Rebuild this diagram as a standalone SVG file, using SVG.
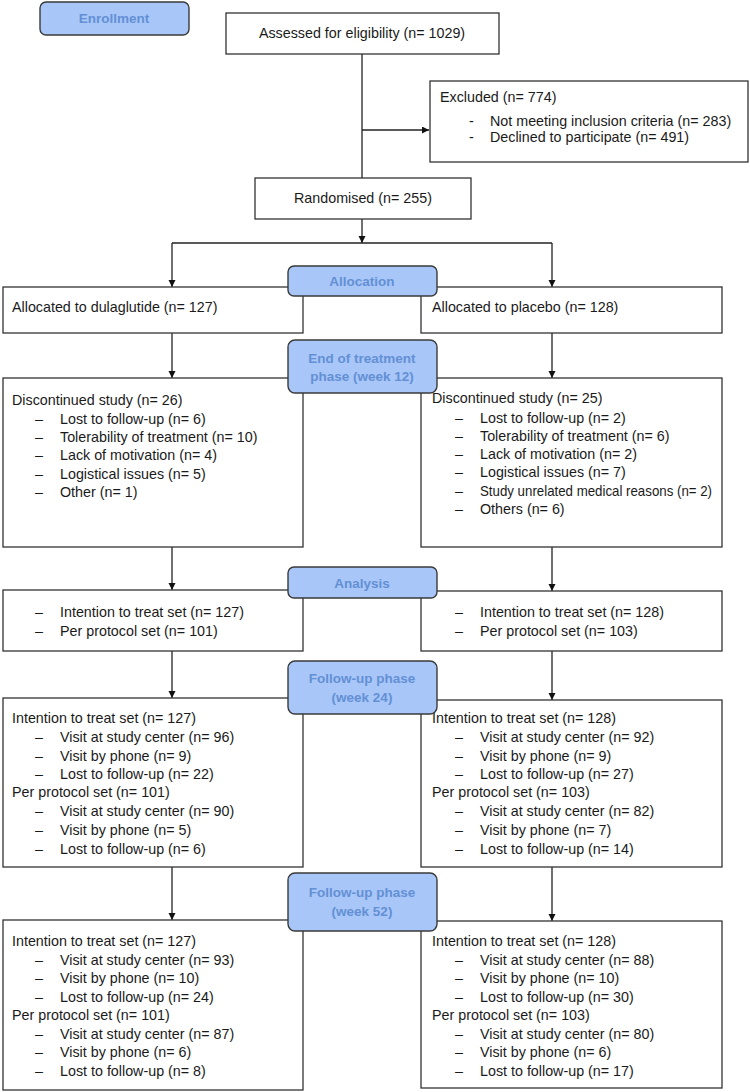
<svg xmlns="http://www.w3.org/2000/svg" width="750" height="1092" viewBox="0 0 750 1092">
<style>
.box{fill:#fff;stroke:#333;stroke-width:1.3}
.pill{fill:#a8c6f8;stroke:#3a3a3a;stroke-width:1.4}
.t{font-family:"Liberation Sans",Arial,sans-serif;font-size:14.3px;fill:#1a1a1a}
.p{font-family:"Liberation Sans",Arial,sans-serif;font-size:13.5px;font-weight:bold;fill:#6390d4;text-anchor:middle}
.c{stroke:#222;stroke-width:1.3;fill:none}
.a{marker-end:url(#ah)}
</style>
<defs>
<marker id="ah" markerUnits="userSpaceOnUse" markerWidth="8" markerHeight="8" refX="7" refY="3.5" orient="auto">
<path d="M0,0 L7,3.5 L0,7 z" fill="#111"/>
</marker>
</defs>
<rect width="750" height="1092" fill="#fff"/>

<g id="connectors">
<line class="c" x1="362" y1="54" x2="362" y2="178"/>
<line class="c a" x1="362" y1="130" x2="429" y2="130"/>
<line class="c a" x1="362" y1="219" x2="362" y2="243"/>
<polyline class="c" points="172,243 552,243"/>
<line class="c a" x1="172" y1="243" x2="172" y2="287"/>
<line class="c a" x1="552" y1="243" x2="552" y2="287"/>
<line class="c a" x1="172" y1="333" x2="172" y2="378"/>
<line class="c a" x1="552" y1="333" x2="552" y2="378"/>
<line class="c a" x1="172" y1="547" x2="172" y2="590"/>
<line class="c a" x1="552" y1="547" x2="552" y2="591"/>
<line class="c a" x1="172" y1="651" x2="172" y2="698"/>
<line class="c a" x1="552" y1="651" x2="552" y2="700"/>
<line class="c a" x1="172" y1="867" x2="172" y2="920"/>
<line class="c a" x1="552" y1="867" x2="552" y2="921"/>
</g>

<g id="assessed">
<rect class="box" x="226" y="13" width="273" height="41"/>
<text class="t" x="362" y="38" text-anchor="middle">Assessed for eligibility (n= 1029)</text>
</g>

<g id="excluded">
<rect class="box" x="430" y="81" width="318" height="81"/>
<text class="t" x="440" y="102">Excluded (n= 774)</text>
<text class="t" x="469" y="126">-</text>
<text class="t" x="490" y="126">Not meeting inclusion criteria (n= 283)</text>
<text class="t" x="469" y="142">-</text>
<text class="t" x="490" y="142">Declined to participate (n= 491)</text>
</g>

<g id="randomised">
<rect class="box" x="255" y="178" width="216" height="41"/>
<text class="t" x="363" y="203" text-anchor="middle">Randomised (n= 255)</text>
</g>

<g id="alloc-dula">
<rect class="box" x="3" y="287" width="300" height="46"/>
<text class="t" x="12" y="312">Allocated to dulaglutide (n= 127)</text>
</g>

<g id="alloc-placebo">
<rect class="box" x="421" y="287" width="301" height="46"/>
<text class="t" x="432" y="312">Allocated to placebo (n= 128)</text>
</g>

<g id="disc-dula">
<rect class="box" x="3" y="378" width="300" height="169"/>
<text class="t" x="12" y="405">Discontinued study (n= 26)</text>
<g class="t">
<text x="35" y="424">–</text><text x="60" y="424">Lost to follow-up (n= 6)</text>
<text x="35" y="442">–</text><text x="60" y="442">Tolerability of treatment (n= 10)</text>
<text x="35" y="460">–</text><text x="60" y="460">Lack of motivation (n= 4)</text>
<text x="35" y="479">–</text><text x="60" y="479">Logistical issues (n= 5)</text>
<text x="35" y="497">–</text><text x="60" y="497">Other (n= 1)</text>
</g>
</g>

<g id="disc-placebo">
<rect class="box" x="421" y="378" width="301" height="169"/>
<text class="t" x="432" y="403">Discontinued study (n= 25)</text>
<g class="t">
<text x="455" y="423">–</text><text x="480" y="423">Lost to follow-up (n= 2)</text>
<text x="455" y="441">–</text><text x="480" y="441">Tolerability of treatment (n= 6)</text>
<text x="455" y="459">–</text><text x="480" y="459">Lack of motivation (n= 2)</text>
<text x="455" y="477">–</text><text x="480" y="477">Logistical issues (n= 7)</text>
<text x="455" y="496">–</text><text x="480" y="496" textLength="232" lengthAdjust="spacingAndGlyphs">Study unrelated medical reasons (n= 2)</text>
<text x="455" y="514">–</text><text x="480" y="514">Others (n= 6)</text>
</g>
</g>

<g id="analysis-dula">
<rect class="box" x="3" y="590" width="300" height="61"/>
<g class="t">
<text x="35" y="617">–</text><text x="60" y="617">Intention to treat set (n= 127)</text>
<text x="35" y="636">–</text><text x="60" y="636">Per protocol set (n= 101)</text>
</g>
</g>

<g id="analysis-placebo">
<rect class="box" x="421" y="591" width="301" height="60"/>
<g class="t">
<text x="455" y="617">–</text><text x="480" y="617">Intention to treat set (n= 128)</text>
<text x="455" y="636">–</text><text x="480" y="636">Per protocol set (n= 103)</text>
</g>
</g>

<g id="fu24-dula">
<rect class="box" x="3" y="698" width="300" height="169"/>
<g class="t">
<text x="12" y="723">Intention to treat set (n= 127)</text>
<text x="35" y="742">–</text><text x="60" y="742">Visit at study center (n= 96)</text>
<text x="35" y="761">–</text><text x="60" y="761">Visit by phone  (n= 9)</text>
<text x="35" y="779">–</text><text x="60" y="779">Lost to follow-up (n= 22)</text>
<text x="12" y="797">Per protocol set (n= 101)</text>
<text x="35" y="816">–</text><text x="60" y="816">Visit at study center (n= 90)</text>
<text x="35" y="835">–</text><text x="60" y="835">Visit by phone  (n= 5)</text>
<text x="35" y="854">–</text><text x="60" y="854">Lost to follow-up (n= 6)</text>
</g>
</g>

<g id="fu24-placebo">
<rect class="box" x="421" y="700" width="301" height="167"/>
<g class="t">
<text x="432" y="723">Intention to treat set (n= 128)</text>
<text x="455" y="742">–</text><text x="480" y="742">Visit at study center (n= 92)</text>
<text x="455" y="761">–</text><text x="480" y="761">Visit by phone  (n= 9)</text>
<text x="455" y="779">–</text><text x="480" y="779">Lost to follow-up (n= 27)</text>
<text x="432" y="797">Per protocol set (n= 103)</text>
<text x="455" y="816">–</text><text x="480" y="816">Visit at study center (n= 82)</text>
<text x="455" y="835">–</text><text x="480" y="835">Visit by phone  (n= 7)</text>
<text x="455" y="854">–</text><text x="480" y="854">Lost to follow-up (n= 14)</text>
</g>
</g>

<g id="fu52-dula">
<rect class="box" x="3" y="920" width="300" height="170"/>
<g class="t">
<text x="12" y="946">Intention to treat set (n= 127)</text>
<text x="35" y="965">–</text><text x="60" y="965">Visit at study center (n= 93)</text>
<text x="35" y="983">–</text><text x="60" y="983">Visit by phone  (n= 10)</text>
<text x="35" y="1002">–</text><text x="60" y="1002">Lost to follow-up (n= 24)</text>
<text x="12" y="1020">Per protocol set (n= 101)</text>
<text x="35" y="1039">–</text><text x="60" y="1039">Visit at study center (n= 87)</text>
<text x="35" y="1057">–</text><text x="60" y="1057">Visit by phone  (n= 6)</text>
<text x="35" y="1076">–</text><text x="60" y="1076">Lost to follow-up (n= 8)</text>
</g>
</g>

<g id="fu52-placebo">
<rect class="box" x="421" y="921" width="301" height="167"/>
<g class="t">
<text x="432" y="946">Intention to treat set (n= 128)</text>
<text x="455" y="965">–</text><text x="480" y="965">Visit at study center (n= 88)</text>
<text x="455" y="983">–</text><text x="480" y="983">Visit by phone  (n= 10)</text>
<text x="455" y="1002">–</text><text x="480" y="1002">Lost to follow-up (n= 30)</text>
<text x="432" y="1020">Per protocol set (n= 103)</text>
<text x="455" y="1039">–</text><text x="480" y="1039">Visit at study center (n= 80)</text>
<text x="455" y="1057">–</text><text x="480" y="1057">Visit by phone  (n= 6)</text>
<text x="455" y="1076">–</text><text x="480" y="1076">Lost to follow-up (n= 17)</text>
</g>
</g>

<g id="pill-enrollment">
<rect class="pill" x="40" y="2" width="149" height="33" rx="6"/>
<text class="p" x="114" y="23">Enrollment</text>
</g>
<g id="pill-allocation">
<rect class="pill" x="288" y="266" width="149" height="30" rx="6"/>
<text class="p" x="362" y="286">Allocation</text>
</g>
<g id="pill-eot">
<rect class="pill" x="288" y="340" width="149" height="53" rx="7"/>
<text class="p" x="362" y="363">End of treatment</text>
<text class="p" x="362" y="381">phase (week 12)</text>
</g>
<g id="pill-analysis">
<rect class="pill" x="288" y="567" width="149" height="31" rx="6"/>
<text class="p" x="362" y="588">Analysis</text>
</g>
<g id="pill-fu24">
<rect class="pill" x="288" y="661" width="149" height="53" rx="7"/>
<text class="p" x="362" y="683">Follow-up phase</text>
<text class="p" x="362" y="702">(week 24)</text>
</g>
<g id="pill-fu52">
<rect class="pill" x="288" y="873" width="149" height="58" rx="7"/>
<text class="p" x="362" y="897">Follow-up phase</text>
<text class="p" x="362" y="916">(week 52)</text>
</g>
</svg>
